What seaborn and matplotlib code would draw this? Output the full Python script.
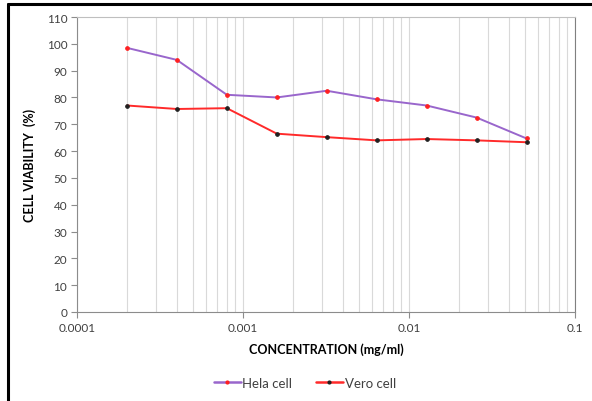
import matplotlib
matplotlib.use("Agg")
import matplotlib.pyplot as plt
import matplotlib.ticker as mticker
from matplotlib.lines import Line2D
import seaborn as sns
import pandas as pd

concentration = [0.0002, 0.0004, 0.0008, 0.0016, 0.0032, 0.0064, 0.0128, 0.0256, 0.0512]
hela = [98.5, 94.0, 81.0, 80.0, 82.5, 79.3, 77.0, 72.5, 64.7]
vero = [77.0, 75.7, 76.0, 66.5, 65.2, 64.0, 64.5, 64.0, 63.3]

df = pd.DataFrame({
    "conc": concentration * 2,
    "viability": hela + vero,
    "cell": ["Hela cell"] * len(hela) + ["Vero cell"] * len(vero),
})

sns.set_style("white")
plt.rcParams["font.family"] = ["Lato", "DejaVu Sans"]

fig = plt.figure(figsize=(5.92, 4.02), dpi=100)
ax = fig.add_axes([0.130, 0.2214, 0.841, 0.7338])

line_colors = {"Hela cell": "#9966cc", "Vero cell": "#ff2a2a"}
marker_colors = {"Hela cell": "#ff2020", "Vero cell": "#202020"}

for name, sub in df.groupby("cell"):
    sns.lineplot(data=sub, x="conc", y="viability", ax=ax, color=line_colors[name],
                 lw=1.4, marker="o", markersize=2.6, markerfacecolor=marker_colors[name],
                 markeredgecolor=marker_colors[name], label=name)

ax.set_xscale("log")
ax.set_xlim(0.0001, 0.1)
ax.set_ylim(0, 110)
ax.set_yticks(range(0, 111, 10))
ax.xaxis.set_major_locator(mticker.FixedLocator([0.0001, 0.001, 0.01, 0.1]))
ax.xaxis.set_major_formatter(mticker.FixedFormatter(["0.0001", "0.001", "0.01", "0.1"]))
ax.xaxis.set_minor_locator(mticker.LogLocator(base=10, subs=range(2, 10)))
ax.xaxis.set_minor_formatter(mticker.NullFormatter())

ax.grid(True, axis="x", which="both", color="#d9d9d9", lw=0.8)
ax.grid(False, axis="y")
ax.set_axisbelow(True)

ax.spines["top"].set_color("#bfbfbf")
ax.spines["right"].set_color("#808080")
for side in ["left", "bottom"]:
    ax.spines[side].set_color("#8c8c8c")
    ax.spines[side].set_linewidth(0.8)

ax.tick_params(axis="both", which="major", direction="out", length=4, width=0.8,
               color="#8c8c8c", labelsize=8.5, labelcolor="#404040", pad=3,
               left=True, bottom=True)
ax.tick_params(axis="x", which="minor", length=0)

ax.set_xlabel("CONCENTRATION (mg/ml)", fontsize=9, weight="bold", color="#000000", labelpad=7)
ax.set_ylabel("CELL VIABILITY  (%)", fontsize=9, weight="bold", color="#000000", labelpad=8)

handles = [
    Line2D([], [], color=line_colors["Hela cell"], lw=1.8, marker="o", markersize=2,
           markerfacecolor=marker_colors["Hela cell"], markeredgecolor=marker_colors["Hela cell"]),
    Line2D([], [], color=line_colors["Vero cell"], lw=1.8, marker="o", markersize=2,
           markerfacecolor=marker_colors["Vero cell"], markeredgecolor=marker_colors["Vero cell"]),
]
ax.legend(handles, ["Hela cell", "Vero cell"], loc="center", bbox_to_anchor=(305 / 592, 1 - 384 / 402),
          bbox_transform=fig.transFigure, ncol=2, frameon=False, fontsize=9.5,
          handlelength=2.0, handletextpad=0.15, columnspacing=1.8,
          labelcolor="#404040")

# black outer frame on left and top
fig.add_artist(Line2D([8 / 592, 8 / 592], [0, 1 - 5 / 402], color="black", lw=2.2,
                      transform=fig.transFigure))
fig.add_artist(Line2D([8 / 592, 1], [1 - 5 / 402, 1 - 5 / 402], color="black", lw=2.2,
                      transform=fig.transFigure))

fig.savefig("out.png", dpi=100)
